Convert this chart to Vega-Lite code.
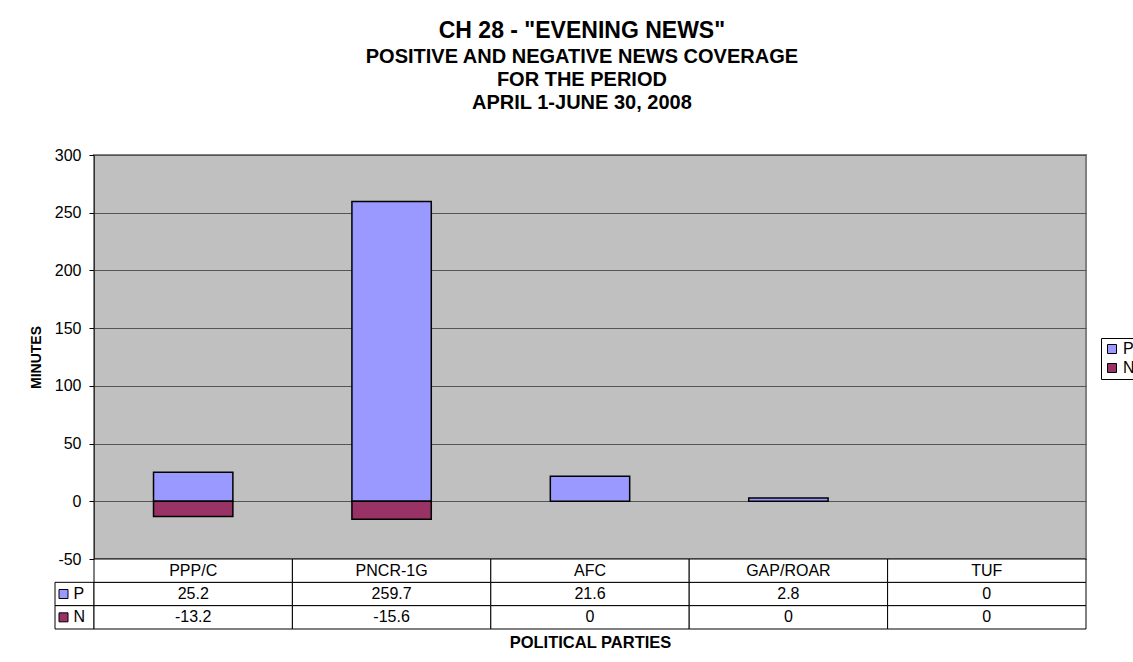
{
  "$schema": "https://vega.github.io/schema/vega-lite/v6.json",
  "background": "white",
  "padding": {"left": 28, "top": 20, "right": 0, "bottom": 0},
  "config": {"font": "Liberation Sans", "view": {"stroke": null}},
  "title": {
    "text": "CH 28 - \"EVENING NEWS\"",
    "subtitle": ["POSITIVE AND NEGATIVE NEWS COVERAGE", "FOR THE PERIOD", "APRIL 1-JUNE 30, 2008"],
    "anchor": "middle",
    "fontSize": 23,
    "fontWeight": "bold",
    "color": "black",
    "subtitleFontSize": 20,
    "subtitleFontWeight": "bold",
    "subtitleColor": "black",
    "subtitleLineHeight": 23,
    "subtitlePadding": 4,
    "offset": 33,
    "dx": -2,
    "font": "Liberation Sans",
    "subtitleFont": "Liberation Sans"
  },
  "datasets": {
    "cov": [
      {"party": "PPP/C", "series": "P", "value": 25.2},
      {"party": "PPP/C", "series": "N", "value": -13.2},
      {"party": "PNCR-1G", "series": "P", "value": 259.7},
      {"party": "PNCR-1G", "series": "N", "value": -15.6},
      {"party": "AFC", "series": "P", "value": 21.6},
      {"party": "AFC", "series": "N", "value": 0},
      {"party": "GAP/ROAR", "series": "P", "value": 2.8},
      {"party": "GAP/ROAR", "series": "N", "value": 0},
      {"party": "TUF", "series": "P", "value": 0},
      {"party": "TUF", "series": "N", "value": 0}
    ]
  },
  "columns": 2,
  "spacing": 0,
  "bounds": "flush",
  "resolve": {
    "scale": {"color": "independent", "x": "independent", "y": "independent"},
    "legend": {"color": "independent"}
  },
  "concat": [
    {
      "width": 39,
      "height": 404,
      "data": {"values": [{"s": 1}]},
      "mark": "text",
      "encoding": {"text": {"value": ""}}
    },
    {
      "width": 992,
      "height": 404,
      "view": {"fill": "#C0C0C0", "stroke": "#808080", "strokeWidth": 2},
      "data": {"name": "cov"},
      "transform": [{"filter": "datum.value !== 0"}],
      "mark": {"type": "bar", "stroke": "black", "strokeWidth": 1.5},
      "encoding": {
        "x": {
          "field": "party",
          "type": "nominal",
          "scale": {"domain": ["PPP/C", "PNCR-1G", "AFC", "GAP/ROAR", "TUF"], "paddingInner": 0.6, "paddingOuter": 0.3},
          "axis": null
        },
        "y": {
          "field": "value",
          "type": "quantitative",
          "stack": null,
          "scale": {"domain": [-50, 300], "nice": false, "zero": false},
          "axis": {
            "values": [-50, 0, 50, 100, 150, 200, 250, 300],
            "labelExpr": "'' + datum.value",
            "grid": true,
            "gridColor": "#555555",
            "gridWidth": 1,
            "gridOpacity": 1,
            "domainColor": "#333333",
            "tickColor": "black",
            "tickSize": 5,
            "labelFontSize": 16,
            "labelPadding": 8,
            "labelColor": "black",
            "title": "MINUTES",
            "titleFontSize": 14,
            "titleFontWeight": "bold",
            "titlePadding": 11,
            "titleColor": "black"
          }
        },
        "color": {
          "field": "series",
          "type": "nominal",
          "scale": {"domain": ["P", "N"], "range": ["#9999FF", "#993366"]},
          "legend": {
            "orient": "none",
            "legendX": 1007,
            "legendY": 183,
            "title": null,
            "symbolType": "square",
            "symbolSize": 81,
            "symbolStrokeColor": "black",
            "symbolStrokeWidth": 1,
            "symbolOpacity": 1,
            "labelFontSize": 16,
            "labelColor": "black",
            "labelOffset": 3,
            "padding": 3,
            "rowPadding": 3,
            "strokeColor": "black",
            "fillColor": "white"
          }
        }
      }
    },
    {
      "width": 39,
      "height": 70,
      "data": {"name": "cov"},
      "transform": [{"filter": "datum.party === 'PPP/C'"}],
      "encoding": {
        "x": {"datum": "lbl", "type": "nominal", "scale": {"paddingInner": 0, "paddingOuter": 0}, "axis": null},
        "y": {"field": "series", "type": "nominal", "scale": {"domain": ["cat", "P", "N"], "paddingInner": 0, "paddingOuter": 0}, "axis": null}
      },
      "layer": [
        {"mark": {"type": "rect", "fill": "white", "stroke": "black", "strokeWidth": 1}},
        {
          "mark": {"type": "point", "shape": "square", "filled": true, "size": 81, "stroke": "black", "strokeWidth": 1, "xOffset": -11, "opacity": 1},
          "encoding": {
            "color": {"field": "series", "type": "nominal", "scale": {"domain": ["P", "N"], "range": ["#9999FF", "#993366"]}, "legend": null}
          }
        },
        {
          "mark": {"type": "text", "align": "left", "fontSize": 16, "xOffset": -1, "color": "black"},
          "encoding": {"text": {"field": "series", "type": "nominal"}}
        }
      ]
    },
    {
      "width": 992,
      "height": 70,
      "data": {"name": "cov"},
      "encoding": {
        "x": {
          "field": "party",
          "type": "nominal",
          "scale": {"domain": ["PPP/C", "PNCR-1G", "AFC", "GAP/ROAR", "TUF"], "paddingInner": 0, "paddingOuter": 0},
          "axis": {"labels": false, "ticks": false, "domain": false, "title": "POLITICAL PARTIES", "titleFontSize": 16.5, "titleFontWeight": "bold", "titlePadding": 5, "titleColor": "black"}
        }
      },
      "layer": [
        {
          "mark": {"type": "rect", "fill": "white", "stroke": "black", "strokeWidth": 1},
          "encoding": {"y": {"field": "series", "type": "nominal", "scale": {"domain": ["cat", "P", "N"], "paddingInner": 0, "paddingOuter": 0}, "axis": null}}
        },
        {
          "mark": {"type": "text", "fontSize": 16, "color": "black"},
          "encoding": {"y": {"field": "series", "type": "nominal"}, "text": {"field": "value", "type": "nominal"}}
        },
        {
          "transform": [{"filter": "datum.series === 'P'"}],
          "mark": {"type": "rect", "fill": "white", "stroke": "black", "strokeWidth": 1},
          "encoding": {"y": {"datum": "cat", "type": "nominal"}}
        },
        {
          "transform": [{"filter": "datum.series === 'P'"}],
          "mark": {"type": "text", "fontSize": 16, "color": "black"},
          "encoding": {"y": {"datum": "cat", "type": "nominal"}, "text": {"field": "party", "type": "nominal"}}
        }
      ]
    }
  ]
}
